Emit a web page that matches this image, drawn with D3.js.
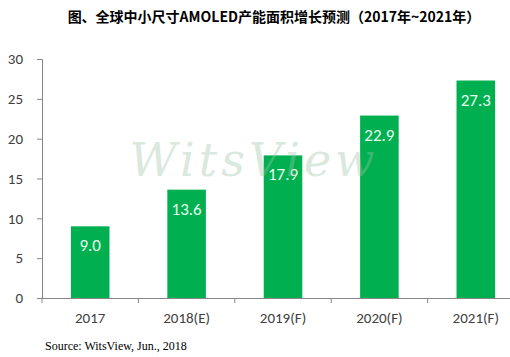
<!DOCTYPE html>
<html><head><meta charset="utf-8">
<script src="https://cdn.jsdelivr.net/npm/d3@7"></script>
<style>body{margin:0;background:#fff;}svg{display:block;}</style>
</head><body>
<svg id="c" width="510" height="357"></svg>
<script>
const categories = ["2017", "2018(E)", "2019(F)", "2020(F)", "2021(F)"];
const values = [9.0, 13.6, 17.9, 22.9, 27.3];
const yTicks = [0, 5, 10, 15, 20, 25, 30];
const titleText = "图、全球中小尺寸AMOLED产能面积增长预测（2017年~2021年）";
const sourceText = "Source: WitsView, Jun., 2018";

const svg = d3.select("#c");
const mLeft = 42, mRight = 524, mTop = 59, mBottom = 298;

const x = d3.scaleBand().domain(categories).range([mLeft, mRight]).paddingInner(0.6).paddingOuter(0.3);
const xb = d3.scaleBand().domain(categories).range([mLeft, mRight]);
const y = d3.scaleLinear().domain([0, 30]).range([mBottom, mTop]);

svg.append("text").attr("x", 274).attr("y", 22).attr("text-anchor", "middle")
  .attr("font-family", "'Noto Sans CJK SC'").attr("font-weight", "bold").attr("font-size", 14)
  .attr("fill", "#000").text(titleText);

// y axis
const ya = svg.append("g").attr("transform", `translate(${mLeft},0)`)
  .call(d3.axisLeft(y).tickValues(yTicks).tickSize(5).tickPadding(14));
ya.select(".domain").attr("stroke", "#868686");
ya.selectAll(".tick line").attr("stroke", "#868686");
ya.selectAll(".tick text").attr("font-family", "Carlito, 'Open Sans', sans-serif").attr("font-size", 15).attr("fill", "#404040");

// x axis
const xa = svg.append("g").attr("transform", `translate(0,${mBottom})`)
  .call(d3.axisBottom(xb).tickSize(0).tickPadding(14));
xa.select(".domain").attr("stroke", "#868686").attr("d", `M${mLeft},0.5H510`);
xa.selectAll(".tick text").attr("font-family", "Carlito, 'Open Sans', sans-serif").attr("font-size", 15).attr("fill", "#404040");
svg.append("g").selectAll("line").data(categories).join("line")
  .attr("x1", d => xb(d)).attr("x2", d => xb(d)).attr("y1", mBottom).attr("y2", mBottom + 5)
  .attr("stroke", "#868686");

// bars
svg.append("g").selectAll("rect").data(values).join("rect")
  .attr("x", (d, i) => x(categories[i])).attr("width", x.bandwidth())
  .attr("y", d => y(d)).attr("height", d => mBottom - y(d)).attr("fill", "#00B050");

svg.append("g").selectAll("text").data(values).join("text")
  .attr("x", (d, i) => x(categories[i]) + x.bandwidth() / 2).attr("y", d => y(d) + 25)
  .attr("text-anchor", "middle").attr("font-family", "Carlito, 'Open Sans', sans-serif").attr("font-size", 17)
  .attr("fill", "#e8fff0").text(d => d.toFixed(1));

// watermark
svg.append("text").attr("x", 254).attr("y", 176).attr("text-anchor", "middle")
  .attr("font-family", "'DejaVu Serif', serif").attr("font-style", "italic").attr("font-size", 46)
  .attr("letter-spacing", 4)
  .attr("fill", "#9fc4a6").attr("fill-opacity", 0.4).text("WitsView");

svg.append("text").attr("x", 45).attr("y", 350)
  .attr("font-family", "'Liberation Serif', serif").attr("font-size", 12).attr("fill", "#000").text(sourceText);
</script>
</body></html>
